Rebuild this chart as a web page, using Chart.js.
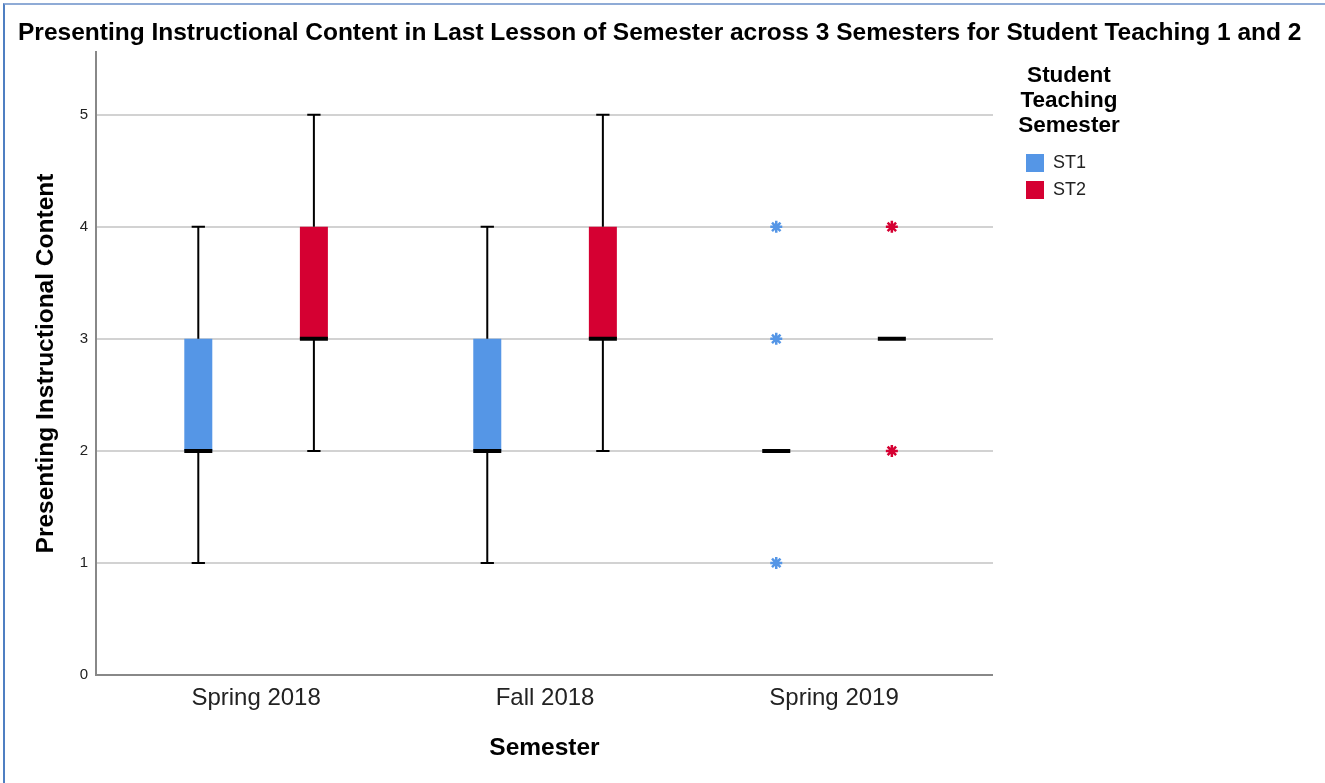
<!DOCTYPE html>
<html>
<head>
<meta charset="utf-8">
<script src="https://cdn.jsdelivr.net/npm/chart.js@4.4.1/dist/chart.umd.min.js"></script>
<style>
  html, body { margin: 0; padding: 0; background: #fff; }
  #wrap { position: relative; width: 1325px; height: 783px; overflow: hidden; }
  #frame { position: absolute; left: 3px; top: 3px; right: -5px; bottom: -5px; border-left: 2px solid #4f7fc2; border-top: 2px solid #8fabd6; }
  #myChart { position: absolute; left: 0; top: 0; }
</style>
</head>
<body>
<div id="wrap">
  <div id="frame"></div>
  <canvas id="myChart" width="1325" height="783"></canvas>
</div>
<script>
const semesters = ['Spring 2018', 'Fall 2018', 'Spring 2019'];
const yTicks = [0, 1, 2, 3, 4, 5];

// ST1 box summaries per semester
const st1Min = [1, 1, 2];
const st1Q1 = [2, 2, 2];
const st1Median = [2, 2, 2];
const st1Q3 = [3, 3, 2];
const st1Max = [4, 4, 2];
const st1Outliers = [[], [], [1, 3, 4]];

// ST2 box summaries per semester
const st2Min = [2, 2, 3];
const st2Q1 = [3, 3, 3];
const st2Median = [3, 3, 3];
const st2Q3 = [4, 4, 3];
const st2Max = [5, 5, 3];
const st2Outliers = [[], [], [2, 4]];

const FONT = "'Liberation Sans', Arial, sans-serif";
const BLUE = '#5596E6';
const RED = '#D50032';
const OFF = 0.2;      // group offset from category centre
const HALF = 0.0485;  // half box width (x units)
const CAP = 0.023;    // half whisker cap width

function boxSet(label, color, q1, q3, off) {
  return {
    type: 'bar', label: label, order: 3,
    data: semesters.map((s, i) => ({x: i + 1 + off, y: [q1[i], q3[i]]})),
    backgroundColor: color, borderWidth: 0, grouped: false, maxBarThickness: 28
  };
}

function whiskerSet(min, q1, q3, max, off) {
  const pts = [];
  semesters.forEach((s, i) => {
    const c = i + 1 + off;
    if (max[i] > q3[i]) {
      pts.push({x: c, y: q3[i]}, {x: c, y: max[i]}, {x: c, y: null});
      pts.push({x: c - CAP, y: max[i]}, {x: c + CAP, y: max[i]}, {x: c, y: null});
    }
    if (min[i] < q1[i]) {
      pts.push({x: c, y: q1[i]}, {x: c, y: min[i]}, {x: c, y: null});
      pts.push({x: c - CAP, y: min[i]}, {x: c + CAP, y: min[i]}, {x: c, y: null});
    }
  });
  return {
    type: 'line', label: 'whisker', order: 2, data: pts,
    borderColor: '#000', borderWidth: 2, pointRadius: 0, spanGaps: false, tension: 0
  };
}

function medianSet(med, off) {
  const pts = [];
  semesters.forEach((s, i) => {
    const c = i + 1 + off;
    pts.push({x: c - HALF, y: med[i]}, {x: c + HALF, y: med[i]}, {x: c, y: null});
  });
  return {
    type: 'line', label: 'median', order: 1, data: pts,
    borderColor: '#000', borderWidth: 4, borderCapStyle: 'butt', pointRadius: 0, spanGaps: false
  };
}

function outlierSet(outs, color, off) {
  const pts = [];
  outs.forEach((vals, i) => vals.forEach(v => pts.push({x: i + 1 + off, y: v})));
  return {
    type: 'scatter', label: 'outlier', order: 0, data: pts,
    pointStyle: 'star', pointRadius: 6, pointBorderWidth: 2.5,
    borderColor: color, backgroundColor: color
  };
}

const data = {
  datasets: [
    boxSet('ST1', BLUE, st1Q1, st1Q3, -OFF),
    boxSet('ST2', RED, st2Q1, st2Q3, OFF),
    whiskerSet(st1Min, st1Q1, st1Q3, st1Max, -OFF),
    whiskerSet(st2Min, st2Q1, st2Q3, st2Max, OFF),
    medianSet(st1Median, -OFF),
    medianSet(st2Median, OFF),
    outlierSet(st1Outliers, BLUE, -OFF),
    outlierSet(st2Outliers, RED, OFF)
  ]
};

// let the title run the full width and give the legend title room
const widenBoxes = {
  id: 'widenBoxes',
  afterLayout(chart) {
    const t = chart.titleBlock;
    t.right = chart.width - 6;
    t.width = t.right - t.left;
    const lg = chart.legend;
    lg.right = lg.left + 104;
    lg.width = 104;
  }
};

const config = {
  type: 'bar',
  data: data,
  plugins: [widenBoxes],
  options: {
    responsive: false,
    animation: false,
    layout: { padding: { left: 18, right: 229, top: 0, bottom: 0 } },
    plugins: {
      tooltip: { enabled: false },
      title: {
        display: true, align: 'start', color: '#000',
        text: 'Presenting Instructional Content in Last Lesson of Semester across 3 Semesters for Student Teaching 1 and 2',
        font: { family: FONT, size: 24.5, weight: 'bold', lineHeight: 1.2 },
        padding: { top: 18.3, bottom: 4.3 }
      },
      legend: {
        position: 'right', align: 'start',
        title: {
          display: true, color: '#000',
          text: ['Student', 'Teaching', 'Semester'],
          font: { family: FONT, size: 22.5, weight: 'bold', lineHeight: 1.111 },
          padding: { top: 64.75, bottom: 55.25 }
        },
        labels: {
          filter: item => item.datasetIndex < 2,
          boxWidth: 18, boxHeight: 18, padding: 9, color: '#222',
          font: { family: FONT, size: 18 }
        }
      }
    },
    scales: {
      x: {
        type: 'linear', min: 0.446, max: 3.55, offset: false,
        afterBuildTicks: s => { s.ticks = semesters.map((name, i) => ({value: i + 1})); },
        afterFit: s => { s.height = 108; },
        grid: { display: false, drawTicks: false },
        border: { color: '#888', width: 2 },
        ticks: {
          padding: 8.6, color: '#222', autoSkip: false, maxRotation: 0,
          font: { family: FONT, size: 24, lineHeight: 1.2 },
          callback: v => semesters[v - 1]
        },
        title: {
          display: true, text: 'Semester', color: '#000',
          font: { family: FONT, size: 24.5, weight: 'bold', lineHeight: 1.2 },
          padding: { top: 0, bottom: 20.3 }
        }
      },
      y: {
        min: 0, max: 5.56,
        afterBuildTicks: s => { s.ticks = yTicks.map(v => ({value: v})); },
        afterFit: s => { s.width = 78; },
        grid: {
          drawTicks: false, lineWidth: 2,
          color: c => (c.tick && c.tick.value === 0) ? 'rgba(0,0,0,0)' : '#d2d2d2'
        },
        border: { color: '#888', width: 2 },
        ticks: { padding: 8, color: '#222', font: { family: FONT, size: 15 } },
        title: {
          display: true, text: 'Presenting Instructional Content', color: '#000',
          font: { family: FONT, size: 24.5, weight: 'bold', lineHeight: 1.2 },
          padding: { top: 13.3, bottom: 0 }
        }
      },
      gap: {
        type: 'linear', position: 'right', display: true,
        grid: { display: false, drawTicks: false },
        border: { display: false },
        ticks: { display: false },
        afterFit: s => { s.width = 24; }
      }
    }
  }
};

const myChart = new Chart(document.getElementById('myChart'), config);
</script>
</body>
</html>
